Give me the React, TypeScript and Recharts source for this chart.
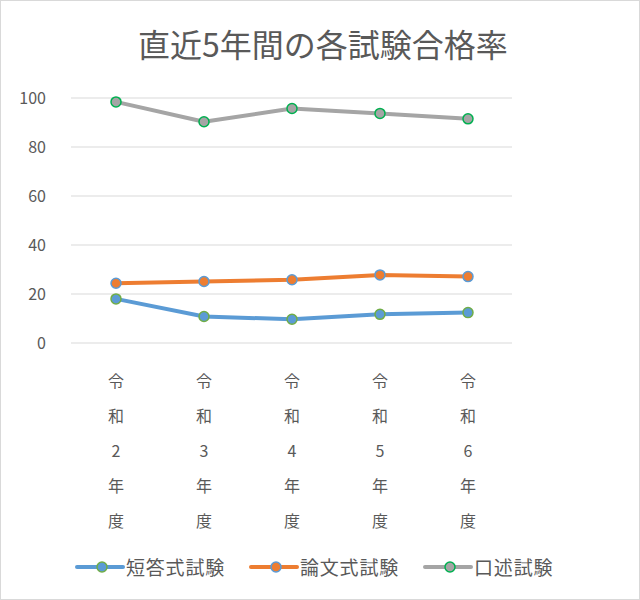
import React from 'react';
import { LineChart, Line, XAxis, YAxis, CartesianGrid } from 'recharts';

const years = ['令和2年度', '令和3年度', '令和4年度', '令和5年度', '令和6年度'];
const tanto = [18.0, 10.8, 9.7, 11.7, 12.4];
const ronbun = [24.4, 25.1, 25.8, 27.8, 27.1];
const kojutsu = [98.4, 90.3, 95.7, 93.7, 91.5];
const yTicks = [0, 20, 40, 60, 80, 100];

const FONT = '"Noto Sans CJK JP", "Noto Sans", sans-serif';
const TEXT = '#595959';

const series = [
  { key: 'tanto', name: '短答式試験', stroke: '#5B9BD5', fill: '#5B9BD5', dotStroke: '#70AD47' },
  { key: 'ronbun', name: '論文式試験', stroke: '#ED7D31', fill: '#ED7D31', dotStroke: '#5B9BD5' },
  { key: 'kojutsu', name: '口述試験', stroke: '#A5A5A5', fill: '#A5A5A5', dotStroke: '#00B050' },
];

const data = years.map((year, i) => ({
  year,
  tanto: tanto[i],
  ronbun: ronbun[i],
  kojutsu: kojutsu[i],
}));

const VerticalTick = (props: any) => {
  const { x, y, payload } = props;
  const chars = Array.from(String(payload.value));
  return (
    <text x={x} y={y} textAnchor="middle" fill={TEXT} fontSize={16} fontFamily={FONT}>
      {chars.map((c, i) => (
        <tspan key={i} x={x} y={y + 36 + i * 35}>
          {c}
        </tspan>
      ))}
    </text>
  );
};

const LegendRow = () => (
  <div
    style={{
      position: 'absolute',
      top: 552,
      left: 74,
      display: 'flex',
      alignItems: 'center',
      fontFamily: FONT,
      fontSize: 19,
      letterSpacing: 0.8,
      color: TEXT,
    }}
  >
    {series.map((s) => (
      <div key={s.key} style={{ display: 'flex', alignItems: 'center', marginRight: 24 }}>
        <svg width={50} height={24}>
          <line x1={2} y1={12} x2={48} y2={12} stroke={s.stroke} strokeWidth={4} strokeLinecap="round" />
          <circle cx={27} cy={12} r={5} fill={s.fill} stroke={s.dotStroke} strokeWidth={1.5} />
        </svg>
        <span style={{ marginLeft: 1 }}>{s.name}</span>
      </div>
    ))}
  </div>
);

export default function App() {
  return (
    <div
      style={{
        position: 'absolute',
        top: 0,
        left: 0,
        width: 640,
        height: 600,
        background: '#fff',
        boxSizing: 'border-box',
        border: '1.5px solid #d9d9d9',
      }}
    >
      <div
        style={{
          position: 'absolute',
          top: 19,
          left: 0,
          width: 644,
          textAlign: 'center',
          fontFamily: FONT,
          fontSize: 32,
          color: TEXT,
          lineHeight: '46px',
        }}
      >
        直近5年間の各試験合格率
      </div>
      <div style={{ position: 'absolute', top: -1.5, left: -1.5 }}>
        <LineChart width={640} height={600} data={data} margin={{ top: 98, right: 128, left: 0, bottom: 67 }}>
          <CartesianGrid vertical={false} stroke="#d9d9d9" strokeWidth={1} />
          <XAxis
            dataKey="year"
            axisLine={false}
            tickLine={false}
            interval={0}
            height={190}
            padding={{ left: 45, right: 44 }}
            tick={<VerticalTick />}
          />
          <YAxis
            domain={[0, 100]}
            ticks={yTicks}
            axisLine={false}
            tickLine={false}
            width={71}
            tick={{ fill: TEXT, fontSize: 16, fontFamily: FONT, dx: -17 }}
          />
          {series.map((s) => (
            <Line
              key={s.key}
              dataKey={s.key}
              name={s.name}
              type="linear"
              stroke={s.stroke}
              strokeWidth={4}
              strokeLinejoin="round"
              dot={{ r: 5, fill: s.fill, stroke: s.dotStroke, strokeWidth: 1.5 }}
              activeDot={false}
              isAnimationActive={false}
            />
          ))}
        </LineChart>
      </div>
      <LegendRow />
    </div>
  );
}
